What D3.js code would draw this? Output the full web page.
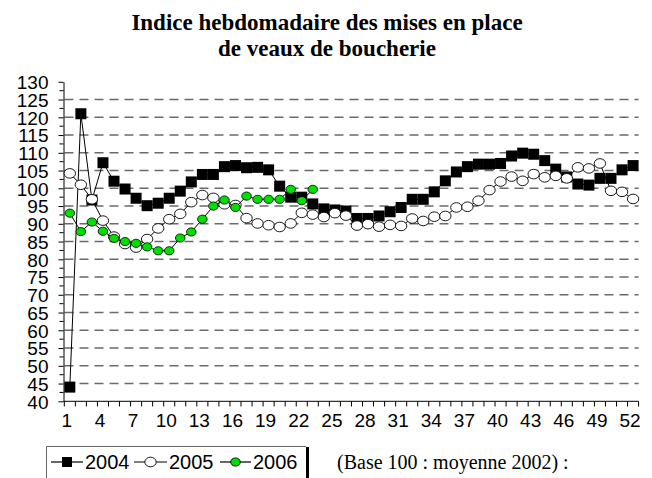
<!DOCTYPE html>
<html lang="fr">
<head>
<meta charset="UTF-8">
<title>Indice hebdomadaire des mises en place de veaux de boucherie</title>
<script src="https://d3js.org/d3.v7.min.js"></script>
<style>
    body { margin: 0; background: #fff; }
    .title { font-family: "Liberation Serif", "Times New Roman", serif; font-weight: bold; font-size: 23px; }
    .axis text { font-family: "Liberation Sans", Arial, sans-serif; font-size: 19px; fill: #000; }
    .axis path, .axis line { stroke: #000; }
    .grid line { stroke: #6a6a6a; stroke-width: 1.5; stroke-dasharray: 9 6; }
</style>
</head>
<body>
<svg id="chart" width="652" height="478"></svg>
<script>
// weeks 1..52
const weeks = d3.range(1, 53);

const v2004 = [44, 121, 96.7, 107.2, 102, 99.8, 97.2, 95.1, 95.8, 97.2,
    99.2, 101.8, 103.9, 103.9, 106.1, 106.4, 105.8, 105.9, 105.2, 100.6,
    97.5, 97.5, 95.6, 94.2, 93.9, 93.6, 91.5, 91.5, 92.2, 93.4,
    94.6, 96.9, 96.9, 99, 102.1, 104.6, 106.1, 106.8, 106.8, 107,
    109.1, 109.9, 109.6, 107.8, 105.4, 103.2, 101.2, 100.9, 102.8, 102.8,
    105.2, 106.4];

const v2005 = [104.2, 101, 96.9, 90.9, 86.4, 84.3, 83.3, 85.7, 88.7, 91.3,
    92.8, 96.1, 98.1, 97.3, 95.5, 95.3, 91.6, 90.1, 89.6, 89.1,
    90.1, 93.1, 92.6, 91.9, 93, 92.3, 89.5, 89.9, 89.2, 89.7,
    89.4, 91.5, 90.8, 92, 92.2, 94.6, 94.8, 96.5, 99.5, 101.9,
    103.3, 102.1, 104, 103.1, 103.5, 102.8, 105.9, 105.6, 107, 99.3,
    99, 97];

const v2006 = [93, 87.8, 90.5, 87.9, 85.9, 85, 84.5, 83.5, 82.4, 82.4,
    86, 87.7, 91.3, 95, 96.7, 94.6, 97.8, 96.9, 96.9, 96.9,
    99.7, 96.5, 99.7];

const seriesNames = ["2004", "2005", "2006"];
const xLabels = weeks.filter(w => (w - 1) % 3 === 0);
const yTicks = d3.range(40, 131, 5);

const svg = d3.select("#chart");

const x = d3.scaleBand().domain(weeks).range([64.3, 638.6]);
const y = d3.scaleLinear().domain([40, 130]).range([401.3, 81.8]);
const cx = w => x(w) + x.bandwidth() / 2;

// title
svg.append("text").attr("class", "title").attr("x", 327).attr("y", 30)
    .attr("text-anchor", "middle").text("Indice hebdomadaire des mises en place");
svg.append("text").attr("class", "title").attr("x", 327).attr("y", 56)
    .attr("text-anchor", "middle").text("de veaux de boucherie");

// dashed gridlines
svg.append("g").attr("class", "grid")
    .selectAll("line")
    .data(yTicks.filter(v => v > 40 && v < 130))
    .join("line")
    .attr("x1", 64.5).attr("x2", 638.6)
    .attr("y1", d => y(d)).attr("y2", d => y(d));

// y axis
const yAxis = svg.append("g").attr("class", "axis")
    .attr("transform", "translate(63.5,0)")
    .call(d3.axisLeft(y).tickValues(yTicks).tickSize(5).tickPadding(10).tickSizeOuter(0));
yAxis.selectAll("text").attr("dy", "0.36em");
// minor ticks on y
svg.append("g").selectAll("line")
    .data(d3.range(42.5, 130, 5))
    .join("line")
    .attr("x1", 59.5).attr("x2", 63.5)
    .attr("y1", d => y(d)).attr("y2", d => y(d))
    .attr("stroke", "#000");

// x axis
const xAxis = svg.append("g").attr("class", "axis")
    .attr("transform", "translate(0,401.3)")
    .call(d3.axisBottom(x).tickValues(xLabels).tickSize(0).tickPadding(12).tickSizeOuter(0));
xAxis.select(".domain").attr("d", "M63.5,0H638.6");
xAxis.selectAll("text").attr("dx", "-3");
svg.append("g").selectAll("line")
    .data(d3.range(0, 53))
    .join("line")
    .attr("x1", i => 64.3 + i * x.step()).attr("x2", i => 64.3 + i * x.step())
    .attr("y1", 401.3).attr("y2", 406.5)
    .attr("stroke", "#000");

const line = d3.line().x((d, i) => cx(i + 1)).y(d => y(d));

// 2004
svg.append("path").datum(v2004).attr("d", line)
    .attr("fill", "none").attr("stroke", "#000").attr("stroke-width", 1);
svg.append("g").selectAll("rect").data(v2004).join("rect")
    .attr("x", (d, i) => cx(i + 1) - 5.5).attr("y", d => y(d) - 5.5)
    .attr("width", 11).attr("height", 11).attr("fill", "#000");

// 2005
svg.append("path").datum(v2005).attr("d", line)
    .attr("fill", "none").attr("stroke", "#000").attr("stroke-width", 1);
svg.append("g").selectAll("ellipse").data(v2005).join("ellipse")
    .attr("cx", (d, i) => cx(i + 1)).attr("cy", d => y(d))
    .attr("rx", 5.7).attr("ry", 4.8)
    .attr("fill", "#fff").attr("stroke", "#000").attr("stroke-width", 0.9);

// 2006
svg.append("path").datum(v2006).attr("d", line)
    .attr("fill", "none").attr("stroke", "#000").attr("stroke-width", 1);
svg.append("g").selectAll("ellipse").data(v2006).join("ellipse")
    .attr("cx", (d, i) => cx(i + 1)).attr("cy", d => y(d))
    .attr("rx", 4.8).attr("ry", 4.1)
    .attr("fill", "#00e000").attr("stroke", "#000").attr("stroke-width", 0.8);

// legend
const lg = svg.append("g");
lg.append("path").attr("d", "M46.5,482 V446.5 H306").attr("fill", "none")
    .attr("stroke", "#666").attr("stroke-width", 1);
lg.append("line").attr("x1", 307.5).attr("x2", 307.5).attr("y1", 447).attr("y2", 478)
    .attr("stroke", "#000").attr("stroke-width", 3);

const legendX = [51, 134, 220];
const legendW = [32, 33, 31];
seriesNames.forEach((name, i) => {
    const lx = legendX[i], ly = 462, w = legendW[i];
    lg.append("line").attr("x1", lx).attr("x2", lx + w).attr("y1", ly).attr("y2", ly)
        .attr("stroke", "#000").attr("stroke-width", 1.2);
    if (i === 0) {
        lg.append("rect").attr("x", lx + w / 2 - 5).attr("y", ly - 5).attr("width", 10).attr("height", 10).attr("fill", "#000");
    } else {
        lg.append("ellipse").attr("cx", lx + w / 2).attr("cy", ly).attr("rx", i === 1 ? 5.7 : 4.8).attr("ry", i === 1 ? 4.8 : 4.1)
            .attr("fill", i === 1 ? "#fff" : "#00e000").attr("stroke", "#000").attr("stroke-width", 0.9);
    }
    lg.append("text").attr("x", lx + w + 2).attr("y", 468.5)
        .attr("font-family", "'Liberation Sans', Arial, sans-serif").attr("font-size", 20)
        .text(name);
});

svg.append("text").attr("x", 337).attr("y", 468.5)
    .attr("font-family", "'Liberation Serif', 'Times New Roman', serif").attr("font-size", 20)
    .text("(Base 100 : moyenne 2002) :");
</script>
</body>
</html>
